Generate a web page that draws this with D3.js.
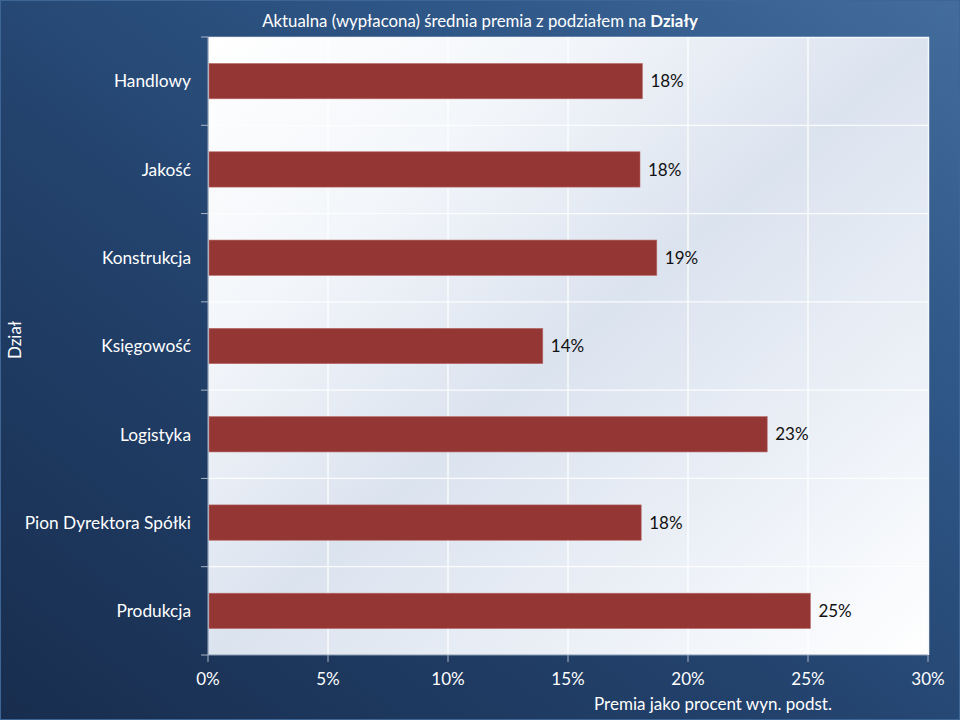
<!DOCTYPE html>
<html>
<head>
<meta charset="utf-8">
<script src="https://cdn.jsdelivr.net/npm/d3@7"></script>
<style>
  html, body { margin: 0; padding: 0; background: #1e3a60; }
  svg { display: block; }
  text { font-family: Lato, "Open Sans", sans-serif; }
</style>
</head>
<body>
<svg id="chart" width="960" height="720"></svg>
<script>
const categories = ["Handlowy", "Jakość", "Konstrukcja", "Księgowość", "Logistyka", "Pion Dyrektora Spółki", "Produkcja"];
const values = [18.1, 18.0, 18.7, 13.95, 23.3, 18.05, 25.1];
const valueLabels = ["18%", "18%", "19%", "14%", "23%", "18%", "25%"];
const xTicks = [0, 5, 10, 15, 20, 25, 30];
const titleText = "Aktualna (wypłacona) średnia premia z podziałem na ";
const titleBold = "Działy";
const xTitle = "Premia jako procent wyn. podst.";
const yTitle = "Dział";

const W = 960, H = 720;
const m = { left: 208, right: 32, top: 37, bottom: 65 };
const svg = d3.select("#chart");
const defs = svg.append("defs");

const bg = defs.append("linearGradient").attr("id", "bg")
  .attr("x1", "0").attr("y1", "1").attr("x2", "1").attr("y2", "0");
bg.append("stop").attr("offset", "0").attr("stop-color", "#182d4e");
bg.append("stop").attr("offset", "0.4").attr("stop-color", "#22416b");
bg.append("stop").attr("offset", "0.75").attr("stop-color", "#30598a");
bg.append("stop").attr("offset", "1").attr("stop-color", "#436d9c");

const pg = defs.append("linearGradient").attr("id", "pg")
  .attr("x1", "0").attr("y1", "0").attr("x2", "1").attr("y2", "1");
pg.append("stop").attr("offset", "0").attr("stop-color", "#ffffff");
pg.append("stop").attr("offset", "0.25").attr("stop-color", "#f3f6fa");
pg.append("stop").attr("offset", "0.5").attr("stop-color", "#dbe3ef");
pg.append("stop").attr("offset", "0.78").attr("stop-color", "#eef2f8");
pg.append("stop").attr("offset", "1").attr("stop-color", "#ffffff");

svg.append("rect").attr("width", W).attr("height", H).attr("fill", "url(#bg)");
svg.append("rect").attr("x", 0.5).attr("y", 0.5).attr("width", W - 1).attr("height", H - 1)
  .attr("fill", "none").attr("stroke", "#3d6696").attr("stroke-width", 1);

const x = d3.scaleLinear().domain([0, 30]).range([m.left, W - m.right]);
const y = d3.scaleBand().domain(categories).range([m.top, H - m.bottom]).paddingInner(0.6).paddingOuter(0.3);

const pw = x(30) - x(0), ph = (H - m.bottom) - m.top;
svg.append("rect").attr("x", m.left).attr("y", m.top).attr("width", pw).attr("height", ph)
  .attr("fill", "url(#pg)");
svg.append("path")
  .attr("d", `M${m.left},${m.top + 0.5}H${x(30) + 0.5}V${H - m.bottom}`)
  .attr("fill", "none").attr("stroke", "#f4f7fb").attr("stroke-width", 1.5);

// vertical gridlines
svg.append("g").selectAll("line").data(xTicks.slice(1, -1)).join("line")
  .attr("x1", d => x(d)).attr("x2", d => x(d))
  .attr("y1", m.top).attr("y2", H - m.bottom)
  .attr("stroke", "#ffffff").attr("stroke-width", 1.2);

// horizontal category boundary lines
const bounds = d3.range(1, categories.length).map(i => m.top + i * (ph / categories.length));
svg.append("g").selectAll("line").data(bounds).join("line")
  .attr("x1", m.left).attr("x2", x(30))
  .attr("y1", d => d).attr("y2", d => d)
  .attr("stroke", "#ffffff").attr("stroke-width", 1.2).attr("opacity", 0.9);

// bars
svg.append("g").selectAll("rect").data(categories).join("rect")
  .attr("x", x(0) + 1)
  .attr("y", d => y(d))
  .attr("width", (d, i) => x(values[i]) - x(0) - 1)
  .attr("height", y.bandwidth())
  .attr("fill", "#943634")
  .attr("stroke", "#b86a68").attr("stroke-width", 0.6);

// value labels
svg.append("g").selectAll("text").data(categories).join("text")
  .attr("x", (d, i) => x(values[i]) + 8)
  .attr("y", d => y(d) + y.bandwidth() / 2)
  .attr("dy", "0.36em")
  .attr("font-size", 17).attr("fill", "#111")
  .text((d, i) => valueLabels[i]);

// y axis
const yAxisBounds = d3.range(0, categories.length + 1).map(i => m.top + i * (ph / categories.length));
const ya = svg.append("g");
ya.append("line").attr("x1", m.left).attr("x2", m.left).attr("y1", m.top).attr("y2", H - m.bottom)
  .attr("stroke", "#8a9bb3").attr("stroke-width", 1.2);
ya.selectAll("line.t").data(yAxisBounds).join("line").attr("class", "t")
  .attr("x1", m.left - 7).attr("x2", m.left).attr("y1", d => d).attr("y2", d => d)
  .attr("stroke", "#a9b6c8").attr("stroke-width", 1);
ya.selectAll("text").data(categories).join("text")
  .attr("x", 191).attr("y", d => y(d) + y.bandwidth() / 2).attr("dy", "0.36em")
  .attr("text-anchor", "end").attr("font-size", 17.3).attr("fill", "#ffffff")
  .text(d => d);

// x axis
const xa = svg.append("g").attr("transform", `translate(0,${H - m.bottom})`);
xa.append("line").attr("x1", m.left).attr("x2", x(30)).attr("stroke", "#8a9bb3").attr("stroke-width", 1.2);
xa.selectAll("line.t").data(xTicks).join("line").attr("class", "t")
  .attr("x1", d => x(d)).attr("x2", d => x(d)).attr("y1", 0).attr("y2", 7)
  .attr("stroke", "#a9b6c8").attr("stroke-width", 1);
xa.selectAll("text").data(xTicks).join("text")
  .attr("x", d => x(d)).attr("y", 30)
  .attr("text-anchor", "middle").attr("font-size", 17).attr("fill", "#ffffff")
  .text(d => d + "%");

// axis titles
svg.append("text").attr("x", 713).attr("y", 710).attr("text-anchor", "middle")
  .attr("font-size", 17).attr("fill", "#ffffff").text(xTitle);
svg.append("text").attr("transform", `translate(21,340) rotate(-90)`).attr("text-anchor", "middle")
  .attr("font-size", 17).attr("fill", "#ffffff").text(yTitle);

// title
const t = svg.append("text").attr("x", 480).attr("y", 27).attr("text-anchor", "middle")
  .attr("font-size", 16.8).attr("fill", "#ffffff");
t.append("tspan").text(titleText);
t.append("tspan").attr("font-weight", "bold").text(titleBold);
</script>
</body>
</html>
